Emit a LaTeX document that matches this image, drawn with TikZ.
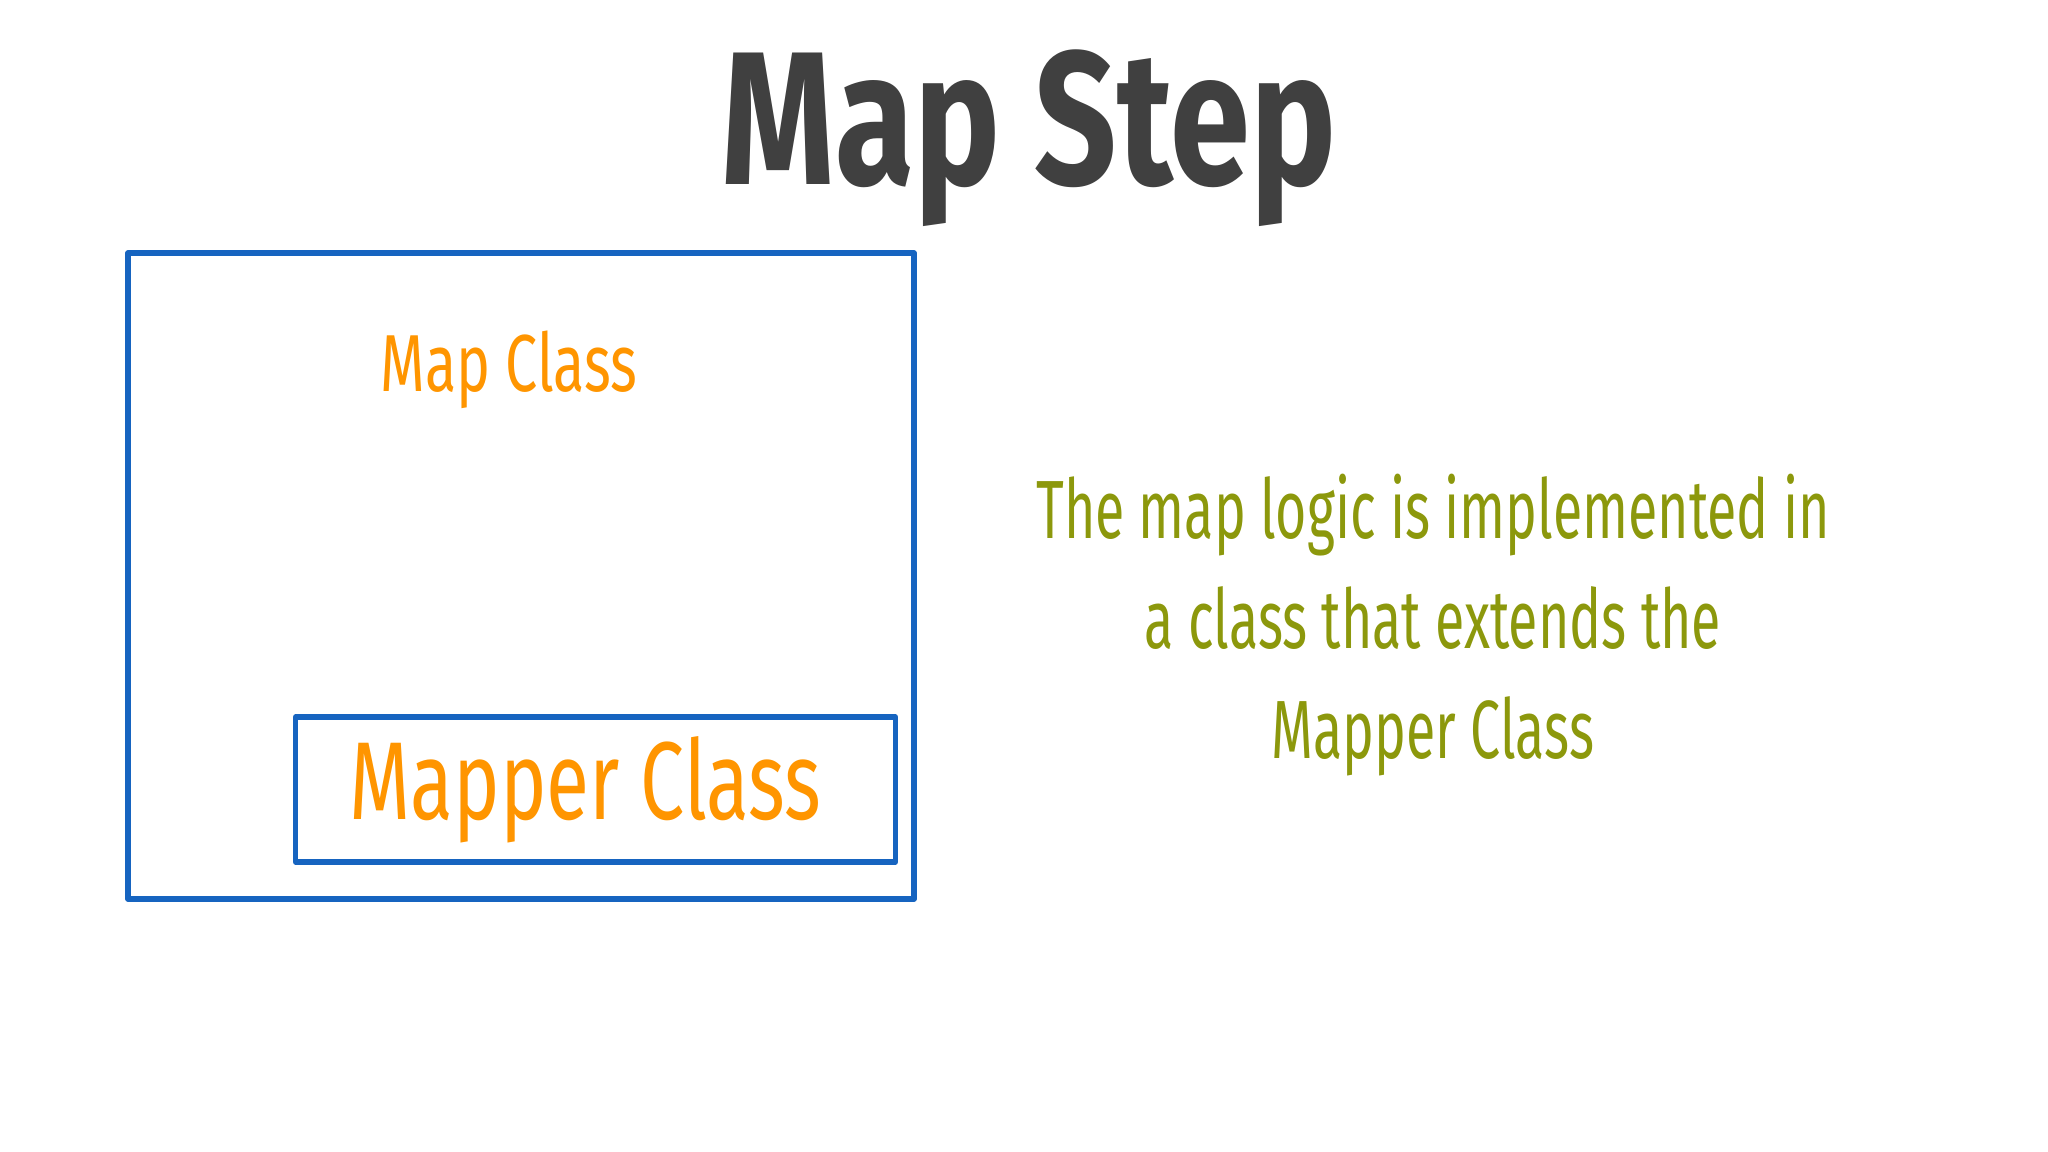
\documentclass[tikz,border=0pt]{standalone}
\usepackage{fontspec}
\usepackage{tikz}
\usetikzlibrary{positioning}
\usepackage{xcolor}
\newfontfamily\handfont[FakeStretch=0.65]{Fira Sans}
\newfontfamily\labelfont[FakeStretch=0.71]{Fira Sans}
\newfontfamily\titlefont[FakeStretch=0.76]{Fira Sans}
\definecolor{msblue}{RGB}{22,100,192}
\definecolor{msorange}{RGB}{255,149,0}
\definecolor{msgreen}{RGB}{140,152,12}
\definecolor{msgray}{RGB}{64,64,64}
\tikzstyle{classbox} = [draw=msblue, line width=1.5pt, line join=round, inner sep=0pt]
\tikzstyle{handtext} = [inner sep=0pt]

\begin{document}
\begin{tikzpicture}
\useasboundingbox (0,0) rectangle (20.48,-11.52);

% Title
\node[anchor=base, inner sep=0pt, text=msgray, font=\titlefont\bfseries\fontsize{54}{60}\selectfont] (title) at (10.29,-1.85) {Map Step};

% Map class with the mapper inside
\node[classbox, minimum width=7.86cm, minimum height=6.46cm] (map) at (5.21,-5.76) {};
\node[handtext, anchor=base, text=msorange, font=\labelfont\fontsize{23}{28}\selectfont] (maplabel) at (5.09,-3.92) {Map Class};
\node[classbox, minimum width=6.0cm, minimum height=1.45cm, text=msorange, font=\labelfont\fontsize{31.5}{36}\selectfont] (mapper) at (5.955,-7.894) {Mapper Class\hspace*{0.2cm}};

% Explanation
\node[handtext, align=center, text=msgreen, font=\handfont\fontsize{23.5}{31.3}\selectfont] (note) at (14.33,-6.25) {The map logic is implemented in\\a class that extends the\\Mapper Class};
\end{tikzpicture}
\end{document}
